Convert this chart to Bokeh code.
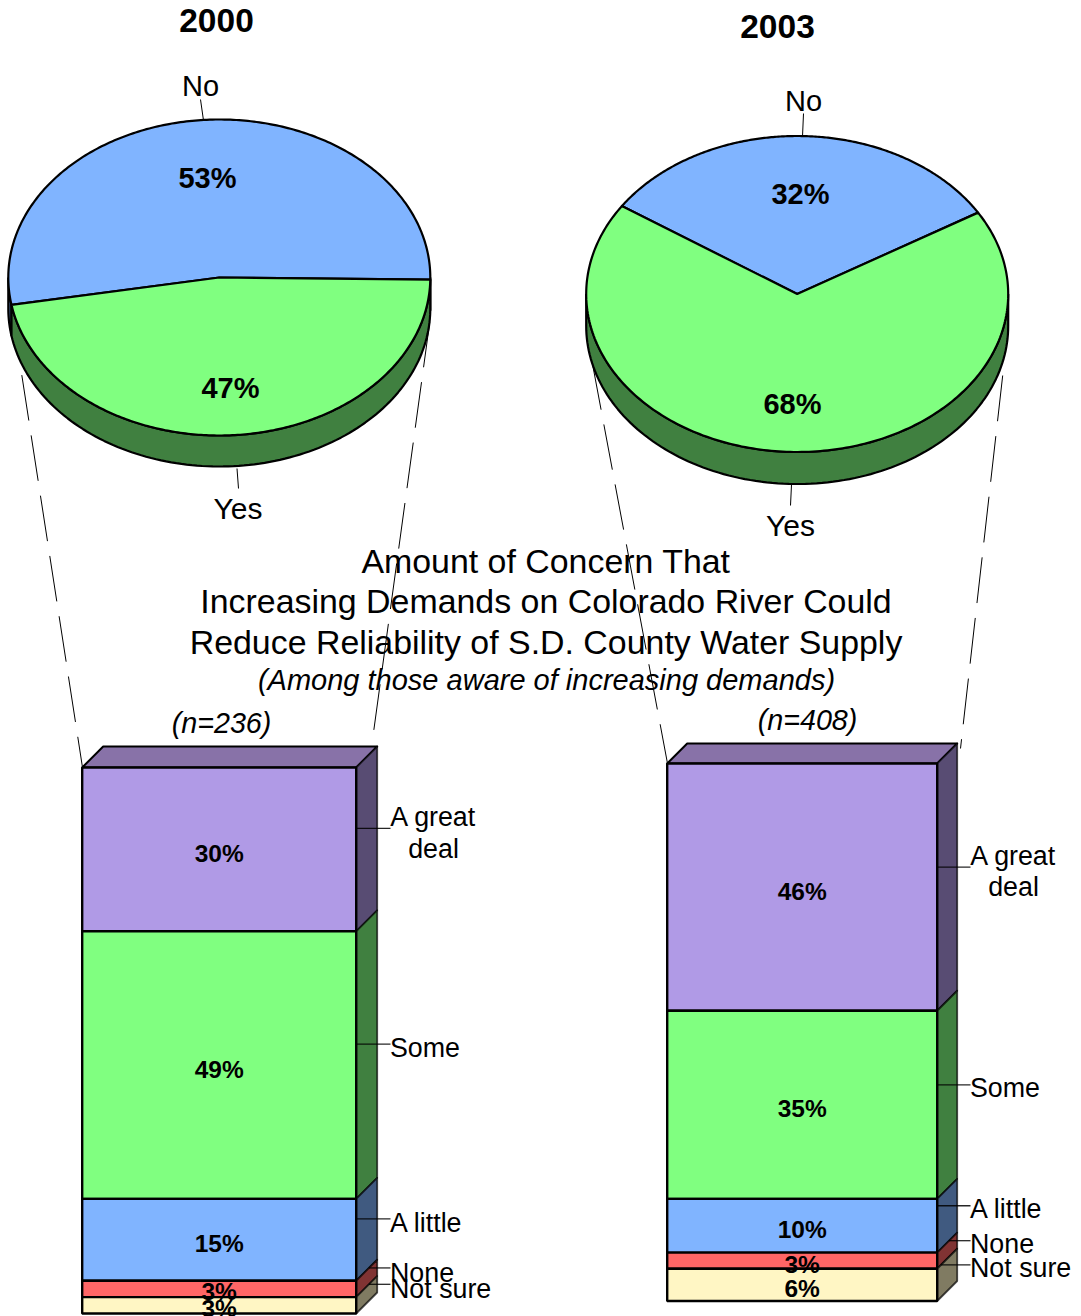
from bokeh.core.properties import value
from bokeh.embed import file_html
from bokeh.models import ColumnDataSource, Range1d
from bokeh.plotting import figure
from bokeh.resources import INLINE
import numpy as np

# Survey results: aware of the increasing demands, by year
years = ["2000", "2003"]
aware_labels = ["No", "Yes"]
aware_2000 = [53, 47]
aware_2003 = [32, 68]

# Amount of concern among those who were aware
concern_labels = ["A great deal", "Some", "A little", "None", "Not sure"]
concern_2000 = [30, 49, 15, 3, 3]
concern_2003 = [46, 35, 10, 3, 6]
sample_2000 = "(n=236)"
sample_2003 = "(n=408)"

title_lines = [
    "Amount of Concern That",
    "Increasing Demands on Colorado River Could",
    "Reduce Reliability of S.D. County Water Supply",
]
subtitle = "(Among those aware of increasing demands)"

FONT = value("Liberation Sans")
W, H = 1081, 1316

PIE_TOP = {"No": "#80B4FF", "Yes": "#80FF80"}
PIE_SIDE = {"No": "#405A80", "Yes": "#408040"}
BAR_FRONT = ["#B09AE6", "#80FF80", "#80B4FF", "#FF6666", "#FFF6C4"]
BAR_SIDE = ["#584C73", "#408040", "#405A80", "#803333", "#807B62"]
BAR_TOP = "#8872A8"

p = figure(
    width=W, height=H, output_backend="svg", toolbar_location=None,
    x_range=Range1d(0, W), y_range=Range1d(H, 0),
    min_border=0, min_border_left=0, min_border_right=0,
    min_border_top=0, min_border_bottom=0,
)
p.axis.visible = False
p.grid.visible = False
p.outline_line_color = None
p.background_fill_color = "white"
p.border_fill_color = "white"


def label(x, y, s, size, bold=False, italic=False, align="center"):
    # y is the text's baseline; the glyph is anchored on its vertical middle
    style = "bold" if bold else ("italic" if italic else "normal")
    p.text(
        x=[x], y=[y - 0.36 * size], text=[s], text_font=FONT,
        text_font_size=f"{size}px", text_font_style=style, text_align=align,
        text_baseline="middle", text_color="black",
    )


def rim(a0, a1, n=120):
    return np.radians(np.linspace(a0, a1, n))


def draw_pie(cx, cy, rx, ry, depth, start_deg, shares):
    sweep = [s * 3.6 for s in shares]
    bounds = [("No", start_deg, start_deg + sweep[0]),
              ("Yes", start_deg + sweep[0], start_deg + 360)]
    # Wall of the disc: only the front half of the rim shows
    for name, a0, a1 in bounds:
        for shift in (0, 360):
            lo, hi = max(a0 + shift, 180), min(a1 + shift, 360)
            if hi <= lo:
                continue
            t = rim(lo, hi)
            xs = cx + rx * np.cos(t)
            ys = cy - ry * np.sin(t)
            p.patch(
                np.concatenate([xs, xs[::-1]]),
                np.concatenate([ys, ys[::-1] + depth]),
                fill_color=PIE_SIDE[name], line_color="black", line_width=2.2,
            )
    # Upper face, one wedge per answer
    for name, a0, a1 in bounds:
        t = rim(a0, a1, 240)
        p.patch(
            np.concatenate([[cx], cx + rx * np.cos(t)]),
            np.concatenate([[cy], cy - ry * np.sin(t)]),
            fill_color=PIE_TOP[name], line_color="black", line_width=2.2,
            line_join="round",
        )


def draw_column(x0, x1, top, total_h, depth, shares):
    unit = total_h / sum(shares)
    edges = top + np.concatenate([[0], np.cumsum(shares)]) * unit
    # Lid of the box
    p.patch(
        [x0, x0 + depth, x1 + depth, x1],
        [top, top - depth, top - depth, top],
        fill_color=BAR_TOP, line_color="black", line_width=2, line_join="round",
    )
    for i in range(len(shares)):
        y0, y1 = edges[i], edges[i + 1]
        p.patch(
            [x1, x1 + depth, x1 + depth, x1],
            [y0, y0 - depth, y1 - depth, y1],
            fill_color=BAR_SIDE[i], line_color="black", line_width=1.8,
            line_join="round", line_alpha=0.7,
        )
        p.quad(
            left=[x0], right=[x1], top=[y0], bottom=[y1],
            fill_color=BAR_FRONT[i], line_color="black", line_width=2.4,
        )
    return edges


# Dashed guides that tie each pie to its column; they run beneath everything
guide_src = ColumnDataSource(dict(
    xs=[[21.3, 82], [429.3, 373], [592.1, 667], [1002.2, 960]],
    ys=[[374.6, 767], [321.2, 732], [364, 763], [375, 748]],
))
p.multi_line(xs="xs", ys="ys", source=guide_src, line_color="black",
             line_width=1, line_dash="46 15")

# Short ticks from the pie labels to the rims
p.multi_line(
    xs=[[200, 203], [236.5, 238], [803, 802], [791, 790]],
    ys=[[99, 120], [468, 488], [113, 136], [484, 505]],
    line_color="black", line_width=1,
)

draw_pie(218.8, 277, 211, 158, 31, -0.8, aware_2000)
draw_pie(796.7, 293.5, 211, 158, 32, 31.0, aware_2003)

left = dict(x0=81.7, x1=355.7, top=767, h=546, depth=21, text_x=218.7,
            dy=[13, 13.5, 12.5, 11, 12.5])
right = dict(x0=666.7, x1=936.7, top=763, h=537.5, depth=20, text_x=801.7,
             dy=[13, 12.5, 12.5, 12.5, 12])

tag_2000 = dict(great_x=433, tag_x=390, great_base=[826, 858],
                base=[None, 1057, 1232, 1282, 1298])
tag_2003 = dict(great_x=1013, tag_x=970, great_base=[865, 896],
                base=[None, 1097, 1218, 1253, 1277])

for shares, g, tag in ((concern_2000, left, tag_2000), (concern_2003, right, tag_2003)):
    edges = draw_column(g["x0"], g["x1"], g["top"], g["h"], g["depth"], shares)
    for i, share in enumerate(shares):
        mid = (edges[i] + edges[i + 1]) / 2
        label(g["text_x"], mid + g["dy"][i], f"{share}%", 24.5, bold=True)
        # Callout from the middle of the side wall to the category name
        ly = mid - g["depth"]
        seg_top = edges[i]
        start = g["x1"] + (seg_top - ly) if ly < seg_top else g["x1"]
        p.line([start, tag["tag_x"]], [ly, ly], line_color="black",
               line_width=1.3, line_alpha=0.85)
        if i == 0:
            a, b = concern_labels[0].rsplit(" ", 1)
            label(tag["great_x"], tag["great_base"][0], a, 26.8)
            label(tag["great_x"], tag["great_base"][1], b, 26.8)
        else:
            label(tag["tag_x"] - 0.5, tag["base"][i], concern_labels[i], 26.8, align="left")

# Headings
label(216, 32, years[0], 33.5, bold=True)
label(777, 38, years[1], 33.5, bold=True)

# Pie captions and shares
label(200, 96, aware_labels[0], 29)
label(237.5, 519, aware_labels[1], 30)
label(207, 188, f"{aware_2000[0]}%", 29, bold=True)
label(230, 398, f"{aware_2000[1]}%", 29, bold=True)
label(803, 111, aware_labels[0], 29)
label(790, 536, aware_labels[1], 30)
label(800, 204, f"{aware_2003[0]}%", 29, bold=True)
label(792, 414, f"{aware_2003[1]}%", 29, bold=True)

# Central title block
for line, base in zip(title_lines, [573, 613, 654]):
    label(545.5, base, line, 33.9)
label(546, 690, subtitle, 29, italic=True)
label(221, 733, sample_2000, 28.7, italic=True)
label(807, 730, sample_2003, 28.7, italic=True)

open("out.html", "w").write(file_html(p, INLINE))
